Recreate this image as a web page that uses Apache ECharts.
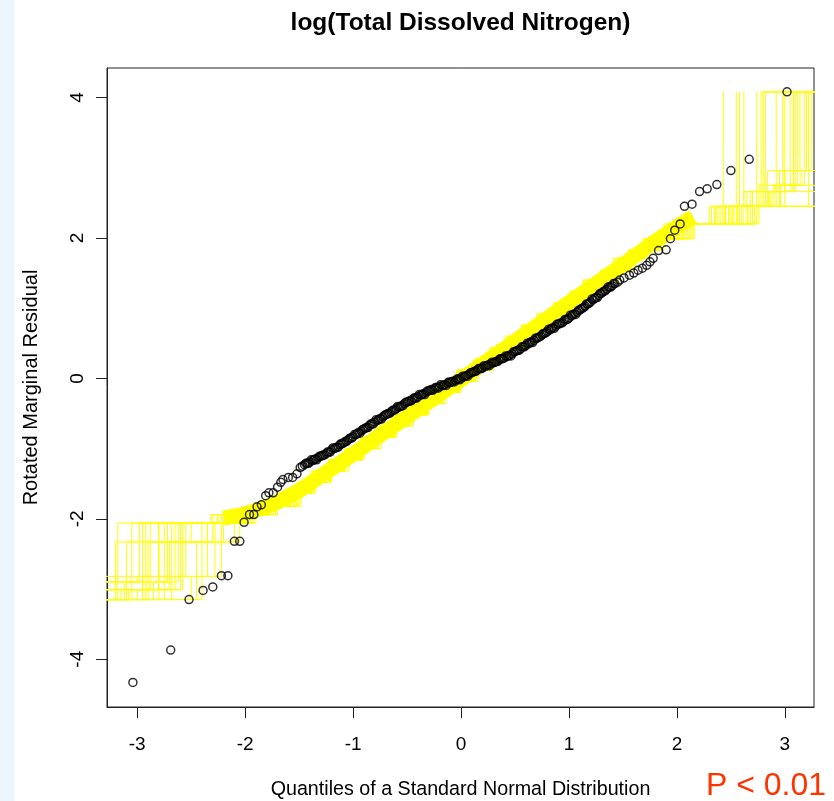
<!DOCTYPE html>
<html>
<head>
<meta charset="utf-8">
<script src="https://cdn.jsdelivr.net/npm/echarts@6/dist/echarts.min.js"></script>
<style>
  html, body { margin: 0; padding: 0; }
  body { background: linear-gradient(to right, #eef6fd 14px, #ffffff 14px); }
  #chart { width: 834px; height: 801px; }
</style>
</head>
<body>
<div id="chart"></div>
<script>
// Axis ticks
const xTicks = [-3, -2, -1, 0, 1, 2, 3];
const yTicks = [-4, -2, 0, 2, 4];

// Observed rotated residuals against normal quantiles: lower tail
const residLower = [
  [-3.04, -4.33], [-2.69, -3.87], [-2.52, -3.15], [-2.39, -3.02], [-2.30, -2.97],
  [-2.22, -2.81], [-2.16, -2.81], [-2.10, -2.32], [-2.05, -2.32], [-2.01, -2.05],
  [-1.96, -1.94], [-1.92, -1.94], [-1.89, -1.83], [-1.85, -1.80], [-1.81, -1.67],
  [-1.78, -1.63], [-1.74, -1.63], [-1.70, -1.55], [-1.67, -1.48], [-1.65, -1.44],
  [-1.60, -1.41], [-1.56, -1.41], [-1.52, -1.36], [-1.49, -1.27], [-1.47, -1.25]
];

// Central run of residuals (even positions)
const residCentral = [
  [-1.450, -1.23], [-1.425, -1.21], [-1.400, -1.19], [-1.375, -1.17], [-1.350, -1.15],
  [-1.325, -1.13], [-1.300, -1.11], [-1.275, -1.09], [-1.250, -1.07], [-1.225, -1.05],
  [-1.200, -1.02], [-1.175, -1.00], [-1.150, -0.98], [-1.125, -0.95], [-1.100, -0.93],
  [-1.075, -0.90], [-1.050, -0.88], [-1.025, -0.85], [-1.000, -0.83], [-0.975, -0.80],
  [-0.950, -0.77], [-0.925, -0.75], [-0.900, -0.72], [-0.875, -0.70], [-0.850, -0.67],
  [-0.825, -0.65], [-0.800, -0.62], [-0.775, -0.60], [-0.750, -0.57], [-0.725, -0.55],
  [-0.700, -0.52], [-0.675, -0.50], [-0.650, -0.48], [-0.625, -0.45], [-0.600, -0.43],
  [-0.575, -0.41], [-0.550, -0.39], [-0.525, -0.36], [-0.500, -0.34], [-0.475, -0.32],
  [-0.450, -0.30], [-0.425, -0.28], [-0.400, -0.26], [-0.375, -0.24], [-0.350, -0.22],
  [-0.325, -0.20], [-0.300, -0.18], [-0.275, -0.16], [-0.250, -0.15], [-0.225, -0.13],
  [-0.200, -0.12], [-0.175, -0.10], [-0.150, -0.09], [-0.125, -0.07], [-0.100, -0.06],
  [-0.075, -0.04], [-0.050, -0.03], [-0.025, -0.01], [0.000, 0.00], [0.025, 0.02],
  [0.050, 0.04], [0.075, 0.06], [0.100, 0.08], [0.125, 0.10], [0.150, 0.12],
  [0.175, 0.14], [0.200, 0.15], [0.225, 0.17], [0.250, 0.19], [0.275, 0.21],
  [0.300, 0.22], [0.325, 0.24], [0.350, 0.26], [0.375, 0.28], [0.400, 0.29],
  [0.425, 0.31], [0.450, 0.33], [0.475, 0.35], [0.500, 0.38], [0.525, 0.40],
  [0.550, 0.42], [0.575, 0.45], [0.600, 0.47], [0.625, 0.49], [0.650, 0.52],
  [0.675, 0.54], [0.700, 0.57], [0.725, 0.59], [0.750, 0.62], [0.775, 0.64],
  [0.800, 0.67], [0.825, 0.69], [0.850, 0.72], [0.875, 0.74], [0.900, 0.77],
  [0.925, 0.79], [0.950, 0.81], [0.975, 0.84], [1.000, 0.86], [1.025, 0.89],
  [1.050, 0.92], [1.075, 0.94], [1.100, 0.97], [1.125, 1.00], [1.150, 1.03],
  [1.175, 1.06], [1.200, 1.09], [1.225, 1.12], [1.250, 1.15], [1.275, 1.18],
  [1.300, 1.21], [1.325, 1.24], [1.350, 1.27], [1.375, 1.30], [1.400, 1.32],
  [1.425, 1.35]
];

// Central run of residuals (odd positions)
const residCentralB = [
  [-1.4375, -1.21], [-1.4125, -1.21], [-1.3875, -1.16], [-1.3625, -1.16], [-1.3375, -1.16],
  [-1.3125, -1.11], [-1.2875, -1.10], [-1.2625, -1.09], [-1.2375, -1.05], [-1.2125, -1.05],
  [-1.1875, -0.99], [-1.1625, -0.99], [-1.1375, -0.98], [-1.1125, -0.93], [-1.0875, -0.92],
  [-1.0625, -0.90], [-1.0375, -0.86], [-1.0125, -0.85], [-0.9875, -0.80], [-0.9625, -0.79],
  [-0.9375, -0.78], [-0.9125, -0.73], [-0.8875, -0.71], [-0.8625, -0.70], [-0.8375, -0.65],
  [-0.8125, -0.65], [-0.7875, -0.59], [-0.7625, -0.59], [-0.7375, -0.58], [-0.7125, -0.53],
  [-0.6875, -0.51], [-0.6625, -0.50], [-0.6375, -0.46], [-0.6125, -0.45], [-0.5875, -0.40],
  [-0.5625, -0.40], [-0.5375, -0.39], [-0.5125, -0.34], [-0.4875, -0.33], [-0.4625, -0.32],
  [-0.4375, -0.28], [-0.4125, -0.28], [-0.3875, -0.23], [-0.3625, -0.23], [-0.3375, -0.23],
  [-0.3125, -0.18], [-0.2875, -0.17], [-0.2625, -0.17], [-0.2375, -0.13], [-0.2125, -0.14],
  [-0.1875, -0.09], [-0.1625, -0.10], [-0.1375, -0.10], [-0.1125, -0.05], [-0.0875, -0.05],
  [-0.0625, -0.05], [-0.0375, -0.01], [-0.0125, -0.02], [0.0125, 0.03], [0.0375, 0.03],
  [0.0625, 0.03], [0.0875, 0.08], [0.1125, 0.09], [0.1375, 0.10], [0.1625, 0.14],
  [0.1875, 0.14], [0.2125, 0.18], [0.2375, 0.18], [0.2625, 0.18], [0.2875, 0.23],
  [0.3125, 0.23], [0.3375, 0.24], [0.3625, 0.28], [0.3875, 0.28], [0.4125, 0.32],
  [0.4375, 0.32], [0.4625, 0.32], [0.4875, 0.38], [0.5125, 0.39], [0.5375, 0.40],
  [0.5625, 0.45], [0.5875, 0.45], [0.6125, 0.50], [0.6375, 0.51], [0.6625, 0.51],
  [0.6875, 0.57], [0.7125, 0.58], [0.7375, 0.60], [0.7625, 0.64], [0.7875, 0.65],
  [0.8125, 0.70], [0.8375, 0.71], [0.8625, 0.71], [0.8875, 0.77], [0.9125, 0.78],
  [0.9375, 0.79], [0.9625, 0.84], [0.9875, 0.84], [1.0125, 0.90], [1.0375, 0.91],
  [1.0625, 0.91], [1.0875, 0.97], [1.1125, 0.99], [1.1375, 1.01], [1.1625, 1.06],
  [1.1875, 1.07], [1.2125, 1.13], [1.2375, 1.14], [1.2625, 1.15], [1.2875, 1.21],
  [1.3125, 1.23], [1.3375, 1.25], [1.3625, 1.30], [1.3875, 1.30], [1.4125, 1.35]
];

// Upper tail of residuals
const residUpper = [
  [1.45, 1.37], [1.47, 1.40], [1.51, 1.43], [1.56, 1.47], [1.60, 1.50],
  [1.64, 1.54], [1.68, 1.57], [1.72, 1.61], [1.75, 1.66], [1.78, 1.71],
  [1.83, 1.82], [1.90, 1.83], [1.94, 1.99], [1.98, 2.11], [2.03, 2.20],
  [2.07, 2.45], [2.14, 2.48], [2.21, 2.66], [2.28, 2.70], [2.37, 2.76],
  [2.50, 2.96], [2.67, 3.12], [3.02, 4.08]
];

// Simulation envelope: residual levels shared by every simulated run
const envLevels = [
  -3.15, -3.01, -2.90, -2.82, -2.33, -2.06, -1.94, -1.82,
  -1.63, -1.48, -1.32, -1.16, -1.00, -0.84, -0.68, -0.52, -0.36, -0.20, -0.04, 0.12,
  0.28, 0.44, 0.60, 0.76, 0.92, 1.08, 1.24, 1.40, 1.54, 1.71, 1.83, 1.99,
  2.20, 2.45, 2.66, 2.75, 2.96, 3.12, 4.08, 4.08
];

// Simulated quantile positions for each full run
const simX1 = [-3.60, -3.10, -3.10, -3.10, -3.10, -2.10, -1.92, -1.80,
  -1.66, -1.50, -1.39, -1.22, -1.08, -0.92, -0.79, -0.62, -0.48, -0.33, -0.17, -0.04,
  0.12, 0.27, 0.41, 0.57, 0.70, 0.86, 1.01, 1.13, 1.29, 1.41, 1.55, 1.69,
  1.95, 2.30, 2.43, 2.43, 2.43, 2.43, 2.43, 2.43];
const simX2 = [-3.60, -2.85, -2.85, -2.70, -2.70, -2.05, -1.90, -1.72,
  -1.52, -1.39, -1.22, -1.10, -0.93, -0.80, -0.63, -0.50, -0.33, -0.20, -0.03, 0.10,
  0.27, 0.40, 0.57, 0.69, 0.86, 0.99, 1.15, 1.27, 1.43, 1.55, 1.69, 1.82,
  2.02, 2.60, 2.80, 2.80, 2.80, 2.80, 2.80, 3.60];
const simX3 = [-3.60, -3.60, -2.95, -2.95, -2.55, -2.55, -2.20, -1.90,
  -1.61, -1.45, -1.33, -1.16, -1.03, -0.86, -0.72, -0.56, -0.43, -0.26, -0.12, 0.04,
  0.17, 0.34, 0.47, 0.63, 0.76, 0.93, 1.05, 1.21, 1.33, 1.49, 1.60, 1.75,
  1.92, 2.55, 2.55, 2.55, 2.55, 2.55, 2.55, 2.55];
const simX4 = [-3.60, -3.20, -3.20, -3.20, -3.20, -2.40, -1.98, -1.72,
  -1.53, -1.35, -1.21, -1.04, -0.91, -0.74, -0.61, -0.44, -0.31, -0.14, -0.01, 0.16,
  0.29, 0.46, 0.59, 0.75, 0.88, 1.05, 1.17, 1.33, 1.45, 1.61, 1.71, 1.88,
  2.10, 2.74, 3.60, 3.60, 3.60, 3.60, 3.60, 3.60];
const simX5 = [-3.60, -2.45, -2.45, -2.45, -2.45, -2.30, -2.05, -1.85,
  -1.63, -1.49, -1.34, -1.21, -1.05, -0.90, -0.75, -0.61, -0.45, -0.30, -0.14, 0.00,
  0.15, 0.30, 0.44, 0.60, 0.73, 0.89, 1.03, 1.17, 1.31, 1.45, 1.57, 1.72,
  1.98, 2.40, 2.62, 3.05, 3.05, 3.05, 3.05, 3.05];
const simX6 = [-3.60, -3.60, -3.60, -3.00, -2.80, -2.80, -2.00, -1.75,
  -1.54, -1.42, -1.27, -1.11, -0.98, -0.81, -0.68, -0.51, -0.38, -0.21, -0.08, 0.08,
  0.22, 0.38, 0.52, 0.67, 0.83, 0.97, 1.12, 1.24, 1.40, 1.53, 1.66, 1.80,
  2.06, 2.50, 2.70, 2.90, 3.15, 3.60, 3.60, 3.60];
const simX7 = [-3.60, -3.60, -3.60, -3.60, -2.90, -2.35, -2.02, -1.80,
  -1.59, -1.43, -1.30, -1.15, -0.99, -0.86, -0.70, -0.54, -0.41, -0.25, -0.10, 0.05,
  0.22, 0.35, 0.51, 0.64, 0.81, 0.94, 1.09, 1.23, 1.37, 1.50, 1.62, 1.77,
  1.96, 2.35, 2.95, 2.95, 2.95, 3.20, 3.20, 3.60];
const simX8 = [-3.60, -3.00, -2.65, -2.65, -2.65, -2.65, -1.98, -1.72,
  -1.52, -1.36, -1.21, -1.08, -0.92, -0.77, -0.62, -0.47, -0.32, -0.17, -0.02, 0.13,
  0.28, 0.43, 0.58, 0.72, 0.87, 1.02, 1.16, 1.30, 1.44, 1.58, 1.70, 1.85,
  2.12, 2.65, 2.65, 3.60, 3.60, 3.60, 3.60, 3.60];
const simX9 = [-3.60, -3.05, -3.05, -3.05, -3.05, -3.05, -2.15, -1.88,
  -1.62, -1.47, -1.35, -1.18, -1.05, -0.88, -0.75, -0.58, -0.45, -0.28, -0.15, 0.02,
  0.15, 0.32, 0.45, 0.61, 0.74, 0.91, 1.03, 1.19, 1.31, 1.47, 1.57, 1.74,
  1.94, 2.45, 2.78, 2.78, 2.78, 2.78, 2.78, 3.60];
const simX10 = [-3.60, -2.75, -2.75, -2.75, -2.75, -2.75, -2.25, -1.78,
  -1.55, -1.39, -1.27, -1.10, -0.97, -0.80, -0.67, -0.50, -0.37, -0.20, -0.07, 0.10,
  0.23, 0.40, 0.53, 0.69, 0.82, 0.99, 1.11, 1.27, 1.39, 1.55, 1.65, 1.82,
  2.05, 2.38, 2.85, 3.10, 3.10, 3.10, 3.10, 3.10];
const simX11 = [-3.60, -3.60, -2.60, -2.60, -2.60, -2.60, -2.10, -1.86,
  -1.65, -1.52, -1.36, -1.23, -1.06, -0.93, -0.76, -0.63, -0.46, -0.33, -0.16, -0.03,
  0.14, 0.27, 0.44, 0.56, 0.73, 0.86, 1.02, 1.14, 1.30, 1.42, 1.56, 1.69,
  1.88, 2.32, 2.58, 2.58, 2.58, 2.58, 2.58, 2.58];
const simX12 = [-3.60, -2.90, -2.90, -2.90, -2.35, -2.35, -2.08, -1.78,
  -1.50, -1.38, -1.22, -1.09, -0.92, -0.79, -0.62, -0.49, -0.32, -0.19, -0.02, 0.11,
  0.28, 0.41, 0.58, 0.70, 0.87, 1.00, 1.16, 1.28, 1.44, 1.56, 1.70, 1.83,
  2.08, 2.70, 2.88, 3.00, 3.60, 3.60, 3.60, 3.60];
const simX13 = [-3.60, -3.60, -3.60, -2.62, -2.62, -2.62, -2.18, -1.90,
  -1.58, -1.42, -1.30, -1.13, -1.00, -0.83, -0.70, -0.53, -0.40, -0.23, -0.10, 0.07,
  0.20, 0.37, 0.50, 0.66, 0.79, 0.96, 1.08, 1.24, 1.36, 1.52, 1.62, 1.79,
  2.00, 2.52, 2.90, 2.90, 3.12, 3.12, 3.12, 3.60];
const simX14 = [-3.60, -3.15, -2.80, -2.80, -2.80, -2.50, -2.06, -1.84,
  -1.60, -1.44, -1.31, -1.17, -1.01, -0.87, -0.71, -0.57, -0.41, -0.27, -0.11, 0.03,
  0.19, 0.33, 0.49, 0.62, 0.78, 0.92, 1.07, 1.20, 1.35, 1.48, 1.61, 1.75,
  1.97, 2.42, 2.68, 2.92, 3.00, 3.25, 3.25, 3.25];
const simX15 = [-3.60, -2.95, -2.95, -2.95, -2.95, -2.95, -2.30, -1.70,
  -1.48, -1.36, -1.20, -1.07, -0.90, -0.77, -0.60, -0.47, -0.30, -0.17, 0.00, 0.13,
  0.30, 0.43, 0.60, 0.72, 0.89, 1.02, 1.18, 1.30, 1.46, 1.58, 1.72, 1.85,
  2.15, 2.68, 3.60, 3.60, 3.60, 3.60, 3.60, 3.60];
const simX16 = [-3.60, -3.60, -2.70, -2.70, -2.28, -2.28, -2.00, -1.76,
  -1.61, -1.48, -1.32, -1.19, -1.02, -0.89, -0.72, -0.59, -0.42, -0.29, -0.12, 0.01,
  0.18, 0.31, 0.48, 0.60, 0.77, 0.90, 1.06, 1.18, 1.34, 1.46, 1.60, 1.73,
  1.93, 2.48, 2.76, 2.76, 2.98, 2.98, 2.98, 3.60];

// Lower-tail stretches of further runs (levels -3.15 … -1.82)
const lowLevels = [-3.15, -3.01, -2.90, -2.82, -2.33, -2.06, -1.94, -1.82];
const lowRuns = [
  [-3.60, -3.18, -3.18, -3.18, -3.18, -3.18, -2.12, -1.90],
  [-3.60, -3.12, -3.12, -2.98, -2.98, -2.98, -2.22, -1.95],
  [-3.60, -2.92, -2.92, -2.92, -2.92, -2.92, -2.18, -1.88],
  [-3.60, -2.80, -2.80, -2.80, -2.80, -2.80, -2.04, -1.84],
  [-3.60, -2.68, -2.68, -2.68, -2.68, -2.68, -2.26, -1.92],
  [-3.60, -3.60, -2.58, -2.58, -2.58, -2.58, -2.14, -1.86],
  [-3.60, -2.50, -2.50, -2.50, -2.22, -2.22, -2.02, -1.80],
  [-3.60, -3.08, -2.88, -2.88, -2.88, -2.88, -2.32, -1.98],
  [-3.60, -3.60, -3.60, -2.72, -2.72, -2.72, -2.08, -1.82],
  [-3.60, -2.40, -2.40, -2.40, -2.40, -2.20, -1.95, -1.78]
];

// Upper-tail stretches of further runs (levels 1.99 … 4.08)
const highLevels = [1.99, 2.20, 2.45, 2.66, 2.75, 2.96, 3.12, 4.08, 4.08];
const highRuns = [
  [1.80, 2.00, 2.48, 2.62, 2.62, 2.62, 2.62, 2.62, 2.62],
  [1.84, 2.08, 2.58, 2.82, 2.82, 2.82, 2.82, 2.82, 3.60],
  [1.78, 2.02, 2.72, 2.92, 2.92, 2.92, 2.92, 2.92, 2.92],
  [1.86, 2.12, 2.56, 3.00, 3.00, 3.00, 3.00, 3.00, 3.60],
  [1.82, 1.98, 2.44, 2.86, 3.08, 3.08, 3.08, 3.08, 3.08],
  [1.88, 2.16, 2.66, 2.96, 2.96, 3.18, 3.18, 3.18, 3.18],
  [1.79, 2.04, 2.52, 2.84, 2.84, 2.84, 3.14, 3.14, 3.60],
  [1.85, 2.10, 2.62, 3.22, 3.22, 3.22, 3.22, 3.22, 3.22],
  [1.81, 2.06, 2.36, 2.74, 2.74, 2.74, 2.74, 2.74, 2.74],
  [1.87, 2.14, 2.76, 3.60, 3.60, 3.60, 3.60, 3.60, 3.60]
];

// Dense centre of the envelope
const coreX = [-2.20, -2.00, -1.75, -1.50, -1.25, -1.00, -0.75, -0.50, -0.25, 0.00,
  0.25, 0.50, 0.75, 1.00, 1.25, 1.50, 1.75, 2.00, 2.15];
const coreY = [-1.99, -1.93, -1.80, -1.60, -1.34, -1.08, -0.81, -0.55, -0.28, -0.02,
  0.26, 0.53, 0.80, 1.08, 1.35, 1.62, 1.90, 2.16, 2.30];

const FONT = "'Liberation Sans', Arial, sans-serif";
const YELLOW = '#ffff00';
const FRAME = '#222';

const chart = echarts.init(document.getElementById('chart'), null, { renderer: 'canvas' });

function stepRun(name, xs, levels) {
  return {
    name: name,
    type: 'line',
    step: 'end',
    data: xs.map((x, i) => [x, levels[i]]),
    symbol: 'none',
    clip: true,
    silent: true,
    lineStyle: { color: YELLOW, width: 1 },
    z: 2
  };
}

const simRuns = [simX1, simX2, simX3, simX4, simX5, simX6, simX7, simX8,
  simX9, simX10, simX11, simX12, simX13, simX14, simX15, simX16];
const envelopeSeries = []
  .concat(simRuns.map((xs, k) => stepRun('sim' + (k + 1), xs, envLevels)))
  .concat(lowRuns.map((xs, k) => stepRun('low' + (k + 1), xs, lowLevels)))
  .concat(highRuns.map((xs, k) => stepRun('high' + (k + 1), xs, highLevels)));

const option = {
  animation: false,
  backgroundColor: 'transparent',
  grid: {
    left: 107, top: 68, width: 707, height: 639,
    outerBoundsMode: 'none',
    show: true, borderColor: FRAME, borderWidth: 1, backgroundColor: 'transparent'
  },
  xAxis: {
    type: 'value', min: -3.28, max: 3.27,
    splitLine: { show: false },
    axisLine: { show: true, onZero: false, lineStyle: { color: FRAME } },
    axisTick: { show: true, length: 11, customValues: xTicks, lineStyle: { color: FRAME } },
    axisLabel: { customValues: xTicks, margin: 28, fontSize: 19, color: '#000', fontFamily: FONT },
    name: 'Quantiles of a Standard Normal Distribution',
    nameLocation: 'middle', nameGap: 73,
    nameTextStyle: { fontSize: 19.7, color: '#000', fontFamily: FONT }
  },
  yAxis: {
    type: 'value', min: -4.68, max: 4.42,
    splitLine: { show: false },
    axisLine: { show: true, onZero: false, lineStyle: { color: FRAME } },
    axisTick: { show: true, length: 11, customValues: yTicks, lineStyle: { color: FRAME } },
    axisLabel: { customValues: yTicks, rotate: 90, margin: 20, fontSize: 19, color: '#000', fontFamily: FONT },
    name: 'Rotated Marginal Residual',
    nameLocation: 'middle', nameGap: 66, nameRotate: 90,
    nameTextStyle: { fontSize: 20, color: '#000', fontFamily: FONT }
  },
  graphic: [
    {
      type: 'text', x: 460.5, y: 23,
      style: { text: 'log(Total Dissolved Nitrogen)', fill: '#000', textAlign: 'center', textVerticalAlign: 'middle',
        font: "bold 24.5px 'Liberation Sans', Arial, sans-serif" }
    },
    {
      type: 'text', x: 766, y: 786,
      style: { text: 'P < 0.01', fill: '#ff3300', textAlign: 'center', textVerticalAlign: 'middle',
        font: "32px 'Liberation Sans', Arial, sans-serif" }
    }
  ],
  series: [
    {
      name: 'envelope core', type: 'line',
      data: coreX.map((x, i) => [x, coreY[i]]),
      symbol: 'none', silent: true, clip: true,
      lineStyle: { color: YELLOW, width: 15, cap: 'butt', join: 'round' },
      z: 1
    },
    ...envelopeSeries,
    {
      name: 'residuals', type: 'scatter',
      data: residLower.concat(residCentral, residCentralB, residUpper),
      symbol: 'circle', symbolSize: 8,
      itemStyle: { color: 'rgba(0,0,0,0)', borderColor: '#000', borderWidth: 1.5 },
      silent: true, clip: true,
      z: 5
    }
  ]
};

chart.setOption(option);
</script>
</body>
</html>
